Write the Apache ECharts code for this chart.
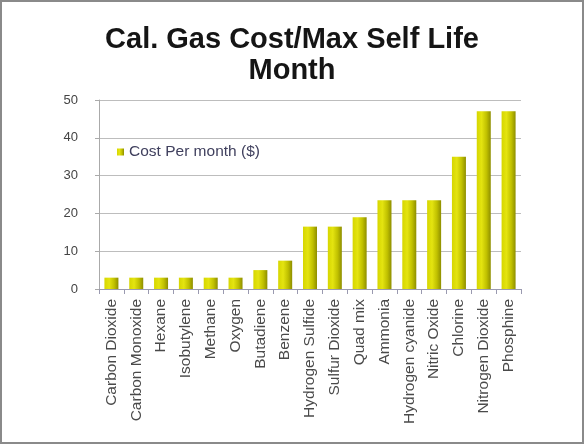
<!DOCTYPE html>
<html>
<head>
<meta charset="utf-8">
<script src="https://cdn.jsdelivr.net/npm/echarts@6/dist/echarts.min.js"></script>
<style>
  html, body { margin: 0; padding: 0; background: #fff; }
  #chart { width: 584px; height: 444px; box-sizing: border-box; border: 2px solid #8a8a8a; }
</style>
</head>
<body>
<div id="chart"></div>
<script>
const gases = ['Carbon Dioxide', 'Carbon Monoxide', 'Hexane', 'Isobutylene', 'Methane', 'Oxygen',
  'Butadiene', 'Benzene', 'Hydrogen Sulfide', 'Sulfur Dioxide', 'Quad mix', 'Ammonia',
  'Hydrogen cyanide', 'Nitric Oxide', 'Chlorine', 'Nitrogen Dioxide', 'Phosphine']
const costPerMonth = [3, 3, 3, 3, 3, 3, 5, 7.5, 16.5, 16.5, 19, 23.5, 23.5, 23.5, 35, 47, 47]
const seriesName = 'Cost Per month ($)'

const chart = echarts.init(document.getElementById('chart'))
chart.setOption({
  animation: false,
  textStyle: { fontFamily: 'Liberation Sans, Arial, sans-serif' },
  title: {
    text: 'Cal. Gas Cost/Max Self Life\nMonth',
    left: 'center',
    top: 17,
    textStyle: { fontSize: 29, fontWeight: 'bold', color: '#151515', lineHeight: 31 }
  },
  legend: {
    left: 110,
    top: 137,
    itemWidth: 7,
    itemHeight: 7,
    itemGap: 5,
    icon: 'rect',
    textStyle: { fontSize: 15.5, color: '#40405e' },
    data: [seriesName]
  },
  grid: { left: 97, right: 61, top: 98, bottom: 153 },
  xAxis: {
    type: 'category',
    data: gases,
    axisLine: { lineStyle: { color: '#9a9ab0' } },
    axisTick: { show: true, lineStyle: { color: '#9a9ab0' } },
    axisLabel: { rotate: 90, fontSize: 15.5, color: '#4a4a4a', margin: 10, interval: 0 }
  },
  yAxis: {
    type: 'value',
    min: 0,
    max: 50,
    interval: 10,
    axisLine: { show: true, lineStyle: { color: '#aaa' } },
    axisTick: { show: true, length: 4, lineStyle: { color: '#aaa' } },
    splitLine: { lineStyle: { color: '#bdbdbd' } },
    axisLabel: { fontSize: 13, color: '#444', margin: 21 }
  },
  series: [{
    name: seriesName,
    type: 'bar',
    data: costPerMonth,
    barWidth: 14,
    itemStyle: {
      color: new echarts.graphic.LinearGradient(0, 0, 1, 0, [
        { offset: 0, color: '#d6d600' },
        { offset: 0.35, color: '#e4e410' },
        { offset: 0.7, color: '#c0c000' },
        { offset: 1, color: '#8e8e00' }
      ])
    }
  }]
})
</script>
</body>
</html>
